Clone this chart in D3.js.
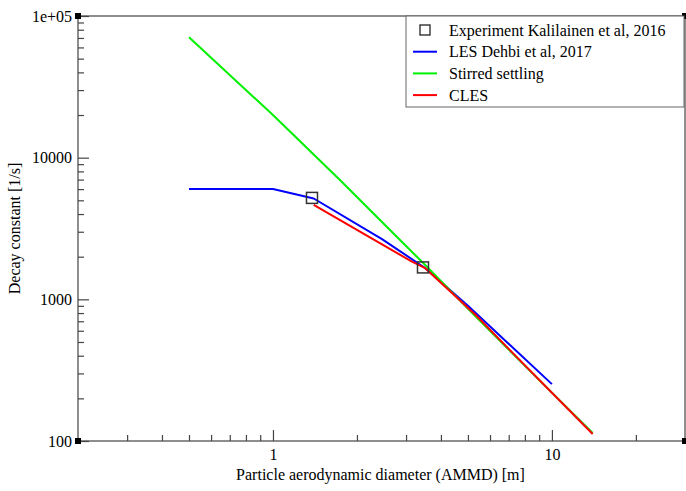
<!DOCTYPE html>
<html>
<head>
<meta charset="utf-8">
<script src="https://cdn.jsdelivr.net/npm/d3@7"></script>
<style>
  body { margin: 0; background: #fff; }
  text { font-family: "Liberation Serif", "DejaVu Serif", serif; }
</style>
</head>
<body>
<div id="chart"></div>
<script>
// diametres (AMMD) et constantes de decroissance
var experimentX = [1.38, 3.45];
var experimentY = [5200, 1680];

var lesX = [0.5, 1.0, 1.4, 2.46, 3.5, 5.0, 10.0];
var lesY = [6000, 6000, 5150, 2660, 1670, 900, 252];

var stirredX = [0.5, 1.0, 1.72, 2.5, 3.5, 5.33, 10.0, 14.0];
var stirredY = [70800, 20000, 7100, 3400, 1760, 755, 219, 114];

var clesX = [1.4, 2.0, 3.15, 3.5, 5.33, 7.0, 10.0, 14.0];
var clesY = [4640, 3090, 1845, 1670, 776, 447, 219, 112];

var xMajor = [1, 10];
var xMinor = [0.3, 0.4, 0.5, 0.6, 0.7, 0.8, 0.9, 2, 3, 4, 5, 6, 7, 8, 9, 20];
var yMajor = [100, 1000, 10000, 100000];
var yMajorLabels = ["100", "1000", "10000", "1e+05"];
var yMinor = [200, 300, 400, 500, 600, 700, 800, 900,
              2000, 3000, 4000, 5000, 6000, 7000, 8000, 9000,
              20000, 30000, 40000, 50000, 60000, 70000, 80000, 90000];

var legendNames = ["Experiment Kalilainen et al, 2016", "LES Dehbi et al, 2017", "Stirred settling", "CLES"];
var legendColors = [null, "#0000ff", "#00f000", "#ff0000"];

var width = 686, height = 491;
var pLeft = 78, pRight = 685, pTop = 16, pBottom = 441;

var svg = d3.select("#chart").append("svg")
  .attr("width", width)
  .attr("height", height);

var x = d3.scaleLog().domain([0.2, 30]).range([pLeft, pRight]);
var y = d3.scaleLog().domain([100, 100000]).range([pBottom, pTop]);

function zip(xs, ys) { return xs.map(function (v, i) { return [v, ys[i]]; }); }

var line = d3.line().x(d => x(d[0])).y(d => y(d[1]));

// courbes
var series = [
  { data: zip(lesX, lesY), color: "#0000ff" },
  { data: zip(stirredX, stirredY), color: "#00f000" },
  { data: zip(clesX, clesY), color: "#ff0000" }
];
svg.selectAll(".serie").data(series).enter().append("path")
  .attr("class", "serie")
  .attr("d", d => line(d.data))
  .attr("fill", "none")
  .attr("stroke", d => d.color)
  .attr("stroke-width", 2)
  .attr("stroke-linejoin", "round");

// points experimentaux
svg.selectAll(".exp").data(zip(experimentX, experimentY)).enter().append("rect")
  .attr("class", "exp")
  .attr("x", d => x(d[0]) - 5.5)
  .attr("y", d => y(d[1]) - 5.5)
  .attr("width", 11)
  .attr("height", 11)
  .attr("fill", "none")
  .attr("stroke", "#333")
  .attr("stroke-width", 1.5);

// cadre
svg.append("rect")
  .attr("x", pLeft).attr("y", pTop)
  .attr("width", pRight - pLeft).attr("height", pBottom - pTop)
  .attr("fill", "none")
  .attr("stroke", "#444")
  .attr("stroke-width", 1.2);

// graduations (vers l'interieur)
var gx = svg.append("g").attr("transform", "translate(0," + pBottom + ")");
gx.call(d3.axisBottom(x).tickValues(xMajor).tickSize(-11).tickFormat(d3.format("d")));
gx.append("g").call(d3.axisBottom(x).tickValues(xMinor).tickSize(-6).tickFormat(""));
gx.selectAll(".domain").remove();
gx.selectAll("line").attr("stroke", "#444").attr("stroke-width", 1.2);
gx.selectAll("text")
  .attr("font-family", "Liberation Serif, serif")
  .attr("font-size", 16)
  .attr("fill", "#000")
  .attr("y", 8)
  .attr("dy", "0.71em");

var gy = svg.append("g").attr("transform", "translate(" + pLeft + ",0)");
gy.call(d3.axisLeft(y).tickValues(yMajor).tickSize(-11).tickFormat((d, i) => yMajorLabels[i]));
gy.append("g").call(d3.axisLeft(y).tickValues(yMinor).tickSize(-6).tickFormat(""));
gy.selectAll(".domain").remove();
gy.selectAll("line").attr("stroke", "#444").attr("stroke-width", 1.2);
gy.selectAll("text")
  .attr("font-family", "Liberation Serif, serif")
  .attr("font-size", 16)
  .attr("fill", "#000")
  .attr("x", -6);

// petits carres aux coins
[[pLeft, pTop], [pRight, pTop], [pLeft, pBottom], [pRight, pBottom]].forEach(function (c) {
  svg.append("rect")
    .attr("x", c[0] - 3).attr("y", c[1] - 3)
    .attr("width", 6).attr("height", 6)
    .attr("fill", "#000");
});

// titres des axes
svg.append("text")
  .attr("x", (pLeft + pRight) / 2 - 1)
  .attr("y", 480)
  .attr("text-anchor", "middle")
  .attr("font-size", 16)
  .text("Particle aerodynamic diameter (AMMD) [m]");
svg.append("text")
  .attr("transform", "translate(20," + ((pTop + pBottom) / 2) + ") rotate(-90)")
  .attr("text-anchor", "middle")
  .attr("font-size", 16)
  .text("Decay constant [1/s]");

// legende
var lg = svg.append("g");
lg.append("rect")
  .attr("x", 406).attr("y", 16)
  .attr("width", 278).attr("height", 91)
  .attr("fill", "#fff")
  .attr("stroke", "#666")
  .attr("stroke-width", 1);
var rows = lg.selectAll(".row").data(legendNames).enter().append("g")
  .attr("class", "row")
  .attr("transform", (d, i) => "translate(0," + (30 + i * 21.7) + ")");
rows.each(function (d, i) {
  var g = d3.select(this);
  if (i === 0) {
    g.append("rect")
      .attr("x", 420).attr("y", -5)
      .attr("width", 10).attr("height", 10)
      .attr("fill", "none")
      .attr("stroke", "#222")
      .attr("stroke-width", 1.3);
  } else {
    g.append("line")
      .attr("x1", 413).attr("x2", 437)
      .attr("y1", 0).attr("y2", 0)
      .attr("stroke", legendColors[i])
      .attr("stroke-width", 2);
  }
  g.append("text")
    .attr("x", 449)
    .attr("y", 0)
    .attr("dy", "0.35em")
    .attr("font-size", 16)
    .text(d);
});
</script>
</body>
</html>
